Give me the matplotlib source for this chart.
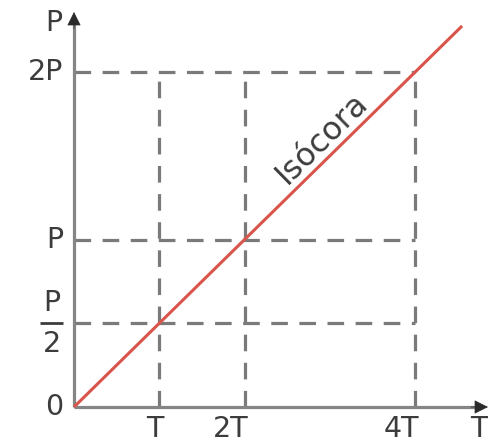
import numpy as np
import matplotlib
matplotlib.use("Agg")
import matplotlib.pyplot as plt

# ---- data ----
t_ticks = [1, 2, 4]
t_labels = ["T", "2T", "4T"]
p_ticks = [0.5, 1, 2]
p_labels = ["P/2", "P", "2P"]
iso_T = [0, 4.55]
iso_P = [0, 2.275]
line_label = "Isócora"

# ---- layout (pixel geometry of the reference) ----
W, H = 489, 446
ox, oy = 74, 407          # origin pixel
sx, sy = 85.3, 167.5      # pixels per T, per P

fig = plt.figure(figsize=(W / 100, H / 100), dpi=100)
ax = fig.add_axes([0, 0, 1, 1])
ax.set_xlim(-ox / sx, (W - ox) / sx)
ax.set_ylim(-(H - oy) / sy, oy / sy)
ax.axis("off")

font = ["DejaVu Sans"]
txt_color = "#3c3c3c"
grid_color = "#7a7a7a"
axis_color = "#858585"

# dashed guide lines
for t in t_ticks:
    ax.plot([t, t], [0, max(p_ticks)], color=grid_color, lw=2.3,
            dashes=(5.2, 3.6), zorder=1)
for p in p_ticks:
    ax.plot([0, max(t_ticks)], [p, p], color=grid_color, lw=2.3,
            dashes=(5.2, 3.6), zorder=1)

# axes with arrows
x_tip = (488 - ox) / sx
y_tip = (oy - 12) / sy
ax.plot([0, x_tip - 0.1], [0, 0], color=axis_color, lw=2.3, zorder=2,
        solid_capstyle="butt")
ax.plot([0, 0], [0, y_tip - 0.05], color=axis_color, lw=2.3, zorder=2,
        solid_capstyle="butt")
ax.annotate("", xy=(x_tip, 0), xytext=(x_tip - 0.2, 0),
            arrowprops=dict(arrowstyle="-|>", color="#2a2a2a", lw=0.5,
                            mutation_scale=22, shrinkA=0, shrinkB=0), zorder=3)
ax.annotate("", xy=(0, y_tip), xytext=(0, y_tip - 0.1),
            arrowprops=dict(arrowstyle="-|>", color="#2a2a2a", lw=0.5,
                            mutation_scale=22, shrinkA=0, shrinkB=0), zorder=3)

# isochore
ax.plot(iso_T, iso_P, color="#d9544a", lw=2.2, zorder=4,
        solid_capstyle="butt")

fs = 20.5
# T tick labels
for t, lab in zip(t_ticks, t_labels):
    ax.annotate(lab, xy=(t, 0), xytext=(4, -30), textcoords="offset pixels",
                ha="right", va="baseline", fontsize=fs, color=txt_color,
                family=font)
# P tick labels
for p, lab in zip(p_ticks, p_labels):
    if "/" in lab:
        num, den = lab.split("/")
        ax.annotate(num, xy=(0, p), xytext=(-22, 20), textcoords="offset pixels",
                    ha="center", va="center", fontsize=fs, color=txt_color,
                    family=font)
        ax.annotate(den, xy=(0, p), xytext=(-22, -21), textcoords="offset pixels",
                    ha="center", va="center", fontsize=fs, color=txt_color,
                    family=font)
        ax.plot([-34 / sx, -11 / sx], [p, p], color=txt_color, lw=2,
                solid_capstyle="butt")
    else:
        ax.annotate(lab, xy=(0, p), xytext=(-11, 0), textcoords="offset pixels",
                    ha="right", va="center", fontsize=fs, color=txt_color,
                    family=font)
ax.annotate("0", xy=(0, 0), xytext=(-11, 0), textcoords="offset pixels",
            ha="right", va="center", fontsize=fs, color=txt_color, family=font)

# axis names
ax.annotate("P", xy=(0, y_tip), xytext=(-12, -11), textcoords="offset pixels",
            ha="right", va="center", fontsize=fs, color=txt_color, family=font)
ax.annotate("T", xy=(x_tip, 0), xytext=(0, -30), textcoords="offset pixels",
            ha="right", va="baseline", fontsize=fs, color=txt_color, family=font)

# line label
ang = np.degrees(np.arctan2(iso_P[1] * sy, iso_T[1] * sx))
xm = 2.907
ax.annotate(line_label, xy=(xm, xm * iso_P[1] / iso_T[1]), xytext=(0, 25),
            textcoords="offset pixels", ha="center", va="center",
            rotation=ang, rotation_mode="anchor", fontsize=23,
            color=txt_color, family=font)

fig.savefig("out.png", dpi=100)
